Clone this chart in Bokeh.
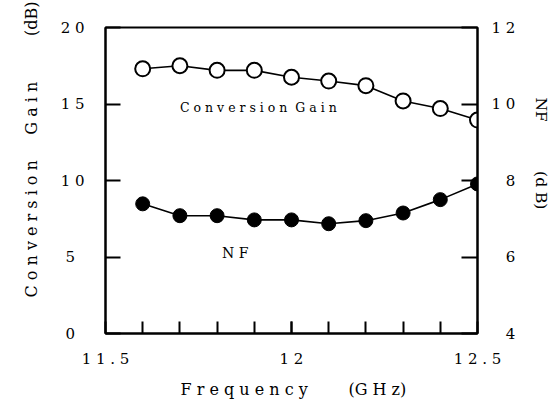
from bokeh.plotting import figure
from bokeh.models import Range1d, LinearAxis, FixedTicker, Label, Title
from bokeh.embed import file_html
from bokeh.resources import INLINE

# ---- data ----
freq = [11.6, 11.7, 11.8, 11.9, 12.0, 12.1, 12.2, 12.3, 12.4, 12.5]
gain = [17.3, 17.5, 17.2, 17.2, 16.75, 16.5, 16.2, 15.2, 14.7, 13.95]
nf = [7.39, 7.08, 7.08, 6.97, 6.97, 6.87, 6.95, 7.15, 7.50, 7.91]

x_ticks = [11.5, 12.0, 12.5]
x_minor_ticks = [11.6, 11.7, 11.8, 11.9, 12.0, 12.1, 12.2, 12.3, 12.4]
x_tick_labels = ["1 1 . 5", "1 2", "1 2 . 5"]
gain_ticks = [0, 5, 10, 15, 20]
gain_tick_labels = ["0\u00a0\u00a0", "5\u00a0\u00a0", "1 0", "1 5", "2 0"]
nf_ticks = [4, 6, 8, 10, 12]
nf_tick_labels = ["\u00a0\u00a0\u00a04", "\u00a0\u00a0\u00a06", "\u00a0\u00a0\u00a08", "1 0", "1 2"]

NB = "\u00a0"
x_title = "F r e q u e n c y" + NB * 8 + "(G H z)"
left_title = "C o n v e r s i o n" + NB * 5 + "G a i n" + NB * 9 + "(dB)"
right_title = "NF" + NB * 10 + "(d B)"
gain_note = "C o n v e r s i o n" + NB * 2 + "G a i n"
nf_note = "N F"

FONT = "DejaVu Serif"

p = figure(frame_width=372, frame_height=306, output_backend="svg", toolbar_location=None,
           x_range=Range1d(11.5, 12.5), y_range=Range1d(0, 20),
           x_axis_type=None, y_axis_type=None,
           min_border_left=105, min_border_right=80, min_border_top=27, min_border_bottom=66)
p.extra_y_ranges = {"nf": Range1d(4, 12)}
p.grid.visible = False
p.outline_line_color = "black"
p.outline_line_width = 2
p.background_fill_color = "white"
p.border_fill_color = "white"

def style_axis(ax, tick_in):
    ax.axis_line_color = "black"
    ax.axis_line_width = 2
    ax.major_tick_in = tick_in
    ax.major_tick_out = 0
    ax.major_tick_line_width = 2
    ax.major_tick_line_color = "black"
    ax.major_label_text_font = FONT
    ax.major_label_text_font_size = "15px"
    ax.major_label_text_color = "black"

xaxis = LinearAxis(ticker=FixedTicker(ticks=x_ticks, minor_ticks=x_minor_ticks))
style_axis(xaxis, 12)
xaxis.minor_tick_in = 12
xaxis.minor_tick_out = 0
xaxis.minor_tick_line_width = 2
xaxis.minor_tick_line_color = "black"
xaxis.major_label_overrides = dict(zip(x_ticks, x_tick_labels))
xaxis.major_label_standoff = 16
p.add_layout(xaxis, "below")

laxis = LinearAxis(ticker=FixedTicker(ticks=gain_ticks))
style_axis(laxis, 15)
laxis.minor_tick_line_color = None
laxis.major_label_overrides = dict(zip(gain_ticks, gain_tick_labels))
laxis.major_label_standoff = 21
p.add_layout(laxis, "left")

raxis = LinearAxis(y_range_name="nf", ticker=FixedTicker(ticks=nf_ticks))
style_axis(raxis, 16)
raxis.minor_tick_line_color = None
raxis.major_label_overrides = dict(zip(nf_ticks, nf_tick_labels))
raxis.major_label_standoff = 14
p.add_layout(raxis, "right")

def add_title(text, side, offset, standoff, size):
    p.add_layout(Title(text=text, align="left", offset=offset, standoff=standoff,
                       text_font=FONT, text_font_size=size, text_font_style="normal",
                       text_color="black"), side)

add_title(left_title, "left", 36, 33, "16px")
add_title(right_title, "right", 70, 26, "15.5px")
add_title(x_title, "below", 75, 14, "16px")

# series
p.line(freq, gain, line_color="black", line_width=1.6)
p.scatter(freq, gain, size=15, marker="circle", fill_color="white",
          line_color="black", line_width=2)
p.line(freq, nf, y_range_name="nf", line_color="black", line_width=1.6)
p.scatter(freq, nf, y_range_name="nf", size=14, marker="circle",
          fill_color="black", line_color="black", line_width=1)

# in-plot notes (positions in data space of the gain axis)
for t, x, y, fs in [(gain_note, 11.911, 14.77, "12.5px"), (nf_note, 11.849, 5.29, "14px")]:
    p.add_layout(Label(x=x, y=y, text=t, text_align="center",
                       text_baseline="middle", text_font=FONT,
                       text_font_size=fs, text_color="black"))

open("out.html", "w").write(file_html(p, INLINE))
